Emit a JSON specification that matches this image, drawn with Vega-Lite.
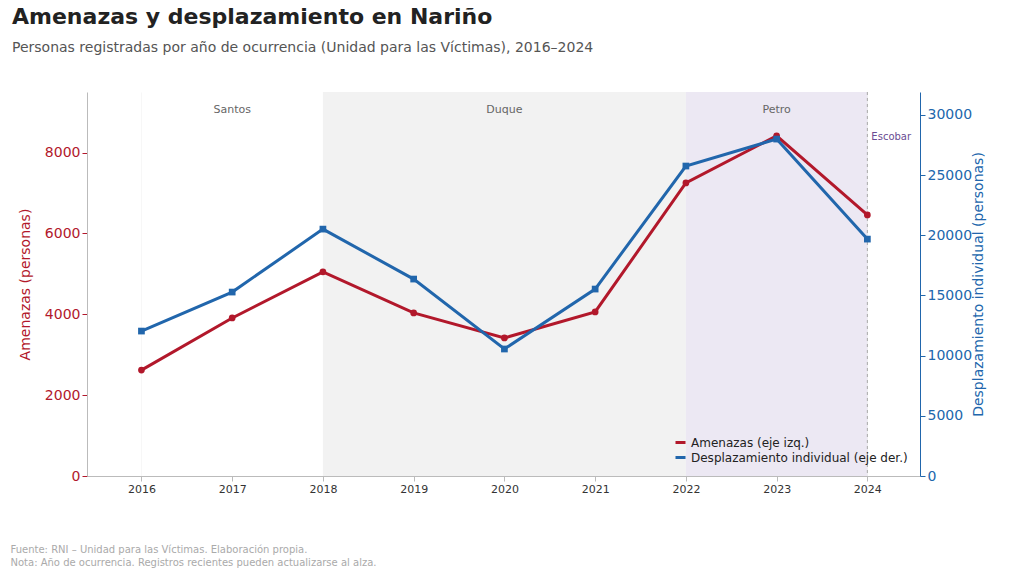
{
  "$schema": "https://vega.github.io/schema/vega-lite/v6.json",
  "width": 833,
  "height": 384,
  "autosize": "none",
  "padding": {"left": 87, "top": 92, "right": 104, "bottom": 98},
  "config": {
    "font": "DejaVu Sans",
    "view": {"stroke": null},
    "axis": {"gridColor": "#eeeeee", "domainColor": "#bbbbbb", "tickColor": "#bbbbbb", "titleFontWeight": "normal"}
  },
  "title": {
    "text": "Amenazas y desplazamiento en Nariño",
    "subtitle": "Personas registradas por año de ocurrencia (Unidad para las Víctimas), 2016–2024",
    "anchor": "start",
    "frame": "group",
    "dx": -75,
    "offset": 36,
    "fontSize": 22,
    "fontWeight": "bold",
    "color": "#222222",
    "subtitleFontSize": 14,
    "subtitleColor": "#555555",
    "subtitlePadding": 12
  },
  "datasets": {
    "series": [
      {"anio": 2016, "amenazas": 2620, "desplazamiento": 12040},
      {"anio": 2017, "amenazas": 3910, "desplazamiento": 15280},
      {"anio": 2018, "amenazas": 5050, "desplazamiento": 20510},
      {"anio": 2019, "amenazas": 4035, "desplazamiento": 16360},
      {"anio": 2020, "amenazas": 3416, "desplazamiento": 10550},
      {"anio": 2021, "amenazas": 4060, "desplazamiento": 15530},
      {"anio": 2022, "amenazas": 7250, "desplazamiento": 25750},
      {"anio": 2023, "amenazas": 8415, "desplazamiento": 27990},
      {"anio": 2024, "amenazas": 6460, "desplazamiento": 19680}
    ],
    "gobiernos": [
      {"nombre": "Santos", "inicio": 2016, "fin": 2018, "medio": 2017, "fondo": "#ffffff"},
      {"nombre": "Duque", "inicio": 2018, "fin": 2022, "medio": 2020, "fondo": "#f2f2f2"},
      {"nombre": "Petro", "inicio": 2022, "fin": 2024, "medio": 2023, "fondo": "#ece8f3"}
    ]
  },
  "layer": [
    {
      "layer": [
        {
          "data": {"name": "gobiernos"},
          "mark": {"type": "rect"},
          "encoding": {
            "x": {"field": "inicio", "type": "quantitative"},
            "x2": {"field": "fin"},
            "fill": {"field": "fondo", "type": "nominal", "scale": null, "legend": null}
          }
        },
        {
          "data": {"name": "gobiernos"},
          "mark": {"type": "text", "fontSize": 11, "color": "#666666"},
          "encoding": {
            "x": {"field": "medio", "type": "quantitative"},
            "y": {"datum": 9060, "type": "quantitative"},
            "text": {"field": "nombre"}
          }
        },
        {
          "data": {"values": [{"anio": 2024, "nombre": "Escobar"}]},
          "layer": [
            {
              "mark": {"type": "rule", "strokeDash": [3, 3], "color": "#aaaaaa"},
              "encoding": {"x": {"field": "anio", "type": "quantitative"}}
            },
            {
              "mark": {"type": "text", "align": "left", "dx": 4, "fontSize": 10, "color": "#6a4c93"},
              "encoding": {
                "x": {"field": "anio", "type": "quantitative"},
                "y": {"datum": 8390, "type": "quantitative"},
                "text": {"field": "nombre"}
              }
            }
          ]
        },
        {
          "data": {"name": "series"},
          "mark": {"type": "line", "strokeWidth": 3, "point": {"size": 45, "filled": true}},
          "encoding": {
            "x": {
              "field": "anio", "type": "quantitative",
              "scale": {"domain": [2015.4, 2024.58], "nice": false, "zero": false},
              "axis": {
                "values": [2016, 2017, 2018, 2019, 2020, 2021, 2022, 2023, 2024],
                "format": "d", "labelFontSize": 11, "labelColor": "#333333",
                "title": ["Fuente: RNI – Unidad para las Víctimas. Elaboración propia.", "Nota: Año de ocurrencia. Registros recientes pueden actualizarse al alza."],
                "titleAnchor": "start", "titleAlign": "left", "titleBaseline": "top",
                "titleX": -77, "titleY": 68, "titleFontSize": 10, "titleColor": "#aaaaaa",
                "titleFontWeight": "normal", "titleLineHeight": 13
              }
            },
            "y": {
              "field": "amenazas", "type": "quantitative",
              "scale": {"domain": [0, 9500], "nice": false},
              "axis": {
                "values": [0, 2000, 4000, 6000, 8000], "format": "d", "title": "Amenazas (personas)",
                "labelColor": "#b2182b", "titleColor": "#b2182b", "labelFontSize": 14,
                "titleFontSize": 14, "domainColor": "#bbbbbb", "tickColor": "#b2182b", "titlePadding": 12
              }
            },
            "color": {
              "datum": "Amenazas (eje izq.)",
              "scale": {"domain": ["Amenazas (eje izq.)", "Desplazamiento individual (eje der.)"], "range": ["#b2182b", "#2166ac"]},
              "legend": {
                "title": null, "orient": "bottom-right", "offset": 8, "symbolType": "stroke",
                "symbolStrokeWidth": 3, "labelFontSize": 12, "labelColor": "#222222", "labelLimit": 300,
                "padding": 4
              }
            }
          }
        }
      ]
    },
    {
      "data": {"name": "series"},
      "mark": {"type": "line", "strokeWidth": 3, "point": {"shape": "square", "size": 45, "filled": true}},
      "encoding": {
        "x": {"field": "anio", "type": "quantitative"},
        "y": {
          "field": "desplazamiento", "type": "quantitative",
          "scale": {"domain": [0, 31900], "nice": false},
          "axis": {
            "orient": "right", "values": [0, 5000, 10000, 15000, 20000, 25000, 30000], "format": "d",
            "title": "Desplazamiento individual (personas)", "grid": false, "titleAngle": 270,
            "labelColor": "#2166ac", "titleColor": "#2166ac", "labelFontSize": 14,
            "titleFontSize": 14, "tickColor": "#2166ac", "domainColor": "#2166ac", "titlePadding": 14
          }
        },
        "color": {"datum": "Desplazamiento individual (eje der.)"}
      }
    }
  ],
  "resolve": {"scale": {"y": "independent"}}
}
